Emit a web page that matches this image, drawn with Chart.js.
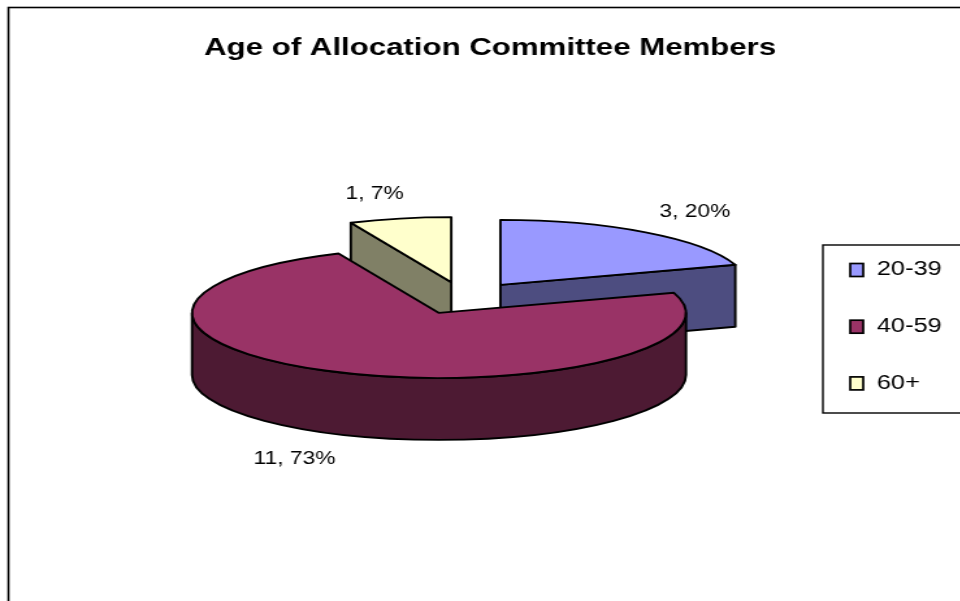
<!DOCTYPE html>
<html>
<head>
<meta charset="utf-8">
<title>Age of Allocation Committee Members</title>
<script src="https://cdn.jsdelivr.net/npm/chart.js@4.4.1/dist/chart.umd.min.js"></script>
<style>
  html, body { margin: 0; padding: 0; background: #fff; overflow: hidden; }
  /* the chart is laid out narrow and widened, like the original sheet export */
  #ageChart { display: block; transform: scaleX(1.3); transform-origin: 0 0; }
</style>
</head>
<body>
<canvas id="ageChart" width="760" height="620"></canvas>
<script>
const ageGroups = ['20-39', '40-59', '60+'];
const memberCounts = [3, 11, 1];
const topColors = ['#9999FF', '#993366', '#FFFFCC'];
const sideColors = ['#4D4D80', '#4D1A33', '#808066'];

const FONT = '"Liberation Sans", Arial, sans-serif';
const TILT = 65 / 190;   // how flat the pie is drawn
const DEPTH = 62;        // pie thickness
const PIE_SHIFT_X = -20; // pie sits left of centre to leave room for the legend
const LINE = 1.9;

function drawSlice(ctx, sl) {
    const { ox, oy, r, s, e, i } = sl;
    const ry = r * TILT;
    ctx.save();
    ctx.lineWidth = LINE;
    ctx.lineJoin = 'round';
    ctx.strokeStyle = '#000';

    // cut faces that turn towards the viewer
    [[s, Math.cos(s) < 0], [e, Math.cos(e) > 0]].forEach(([a, show]) => {
        if (!show) return;
        const x = ox + r * Math.cos(a);
        const y = oy + ry * Math.sin(a);
        ctx.beginPath();
        ctx.moveTo(ox, oy);
        ctx.lineTo(x, y);
        ctx.lineTo(x, y + DEPTH);
        ctx.lineTo(ox, oy + DEPTH);
        ctx.closePath();
        ctx.fillStyle = sideColors[i];
        ctx.fill();
        ctx.stroke();
    });

    // outer wall, front half only
    for (let k = -1; k <= 1; k++) {
        const a0 = Math.max(s, 2 * Math.PI * k);
        const a1 = Math.min(e, 2 * Math.PI * k + Math.PI);
        if (a1 <= a0) continue;
        ctx.beginPath();
        ctx.ellipse(ox, oy, r, ry, 0, a0, a1);
        ctx.ellipse(ox, oy + DEPTH, r, ry, 0, a1, a0, true);
        ctx.closePath();
        ctx.fillStyle = sideColors[i];
        ctx.fill();
        ctx.stroke();
    }

    // top face
    ctx.beginPath();
    ctx.moveTo(ox, oy);
    ctx.ellipse(ox, oy, r, ry, 0, s, e);
    ctx.closePath();
    ctx.fillStyle = topColors[i];
    ctx.fill();
    ctx.stroke();
    ctx.restore();
}

const pie3d = {
    id: 'pie3d',
    beforeDraw(chart) {
        const ctx = chart.ctx;
        ctx.save();
        ctx.strokeStyle = '#000';
        ctx.lineWidth = 1.6;
        ctx.strokeRect(6.5, 7.5, chart.width - 13, chart.height - 15);
        ctx.restore();
    },
    // flat arcs are replaced by the 3d version below
    beforeDatasetsDraw() {
        return false;
    },
    afterDraw(chart) {
        const ctx = chart.ctx;
        const meta = chart.getDatasetMeta(0);
        const total = memberCounts.reduce((a, b) => a + b, 0);

        const slices = meta.data.map((arc, i) => {
            const s = arc.startAngle, e = arc.endAngle, m = (s + e) / 2;
            const off = arc.options.offset;
            return {
                i, s, e, m,
                r: arc.outerRadius,
                ox: arc.x + PIE_SHIFT_X + off * Math.cos(m),
                oy: arc.y + TILT * off * Math.sin(m)
            };
        });

        // back slices first
        slices.slice()
            .sort((a, b) => Math.sin(a.m) - Math.sin(b.m))
            .forEach(sl => drawSlice(ctx, sl));

        // value labels
        ctx.save();
        ctx.fillStyle = '#000';
        ctx.font = '17.5px ' + FONT;
        ctx.textAlign = 'center';
        ctx.textBaseline = 'middle';
        slices.forEach(sl => {
            const k = 1.38;
            const x = sl.ox + k * sl.r * Math.cos(sl.m) - 4.5;
            const y = sl.oy + k * sl.r * TILT * Math.sin(sl.m) + (Math.sin(sl.m) > 0 ? DEPTH + 2 : 0);
            const v = memberCounts[sl.i];
            ctx.fillText(v + ', ' + Math.round(v / total * 100) + '%', x, y);
        });
        ctx.restore();

        // legend
        const box = { left: 633, top: 245, right: 748, bottom: 413 };
        ctx.save();
        ctx.strokeStyle = '#000';
        ctx.lineWidth = 1.4;
        ctx.strokeRect(box.left, box.top, box.right - box.left, box.bottom - box.top);
        ctx.font = '19.5px ' + FONT;
        ctx.textAlign = 'left';
        ctx.textBaseline = 'middle';
        ageGroups.forEach((label, i) => {
            const y = box.top + 25 + i * 56.7;
            ctx.fillStyle = topColors[i];
            ctx.fillRect(654, y - 6.5, 10, 13);
            ctx.lineWidth = 1.7;
            ctx.strokeRect(654, y - 6.5, 10, 13);
            ctx.fillStyle = '#000';
            ctx.fillText(label, 674.5, y);
        });
        ctx.restore();
    }
};

new Chart(document.getElementById('ageChart'), {
    type: 'pie',
    data: {
        labels: ageGroups,
        datasets: [{
            data: memberCounts,
            backgroundColor: topColors,
            borderWidth: 0,
            offset: 47.5
        }]
    },
    plugins: [pie3d],
    options: {
        responsive: false,
        animation: false,
        events: [],
        radius: 190,
        layout: { padding: { left: 0, right: 6, top: 0, bottom: 97 } },
        plugins: {
            legend: { display: false },
            tooltip: { enabled: false },
            title: {
                display: true,
                text: 'Age of Allocation Committee Members',
                color: '#000',
                font: { family: FONT, size: 24, weight: 'bold' },
                padding: { top: 34.3, bottom: 10 }
            }
        }
    }
});
</script>
</body>
</html>
